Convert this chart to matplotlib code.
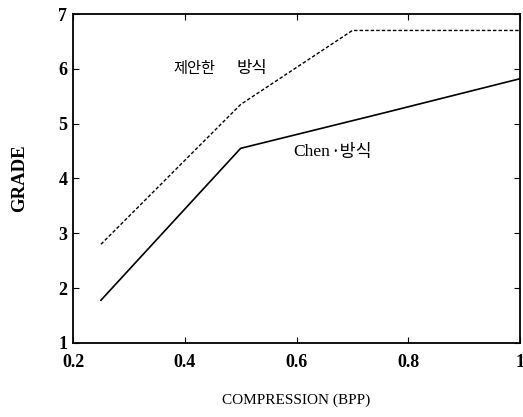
import matplotlib
matplotlib.use("Agg")
import matplotlib.pyplot as plt

# data
bpp_proposed = [0.25, 0.5, 0.7, 1.0]
grade_proposed = [2.8, 5.35, 6.7, 6.7]
bpp_chen = [0.25, 0.5, 0.75, 1.0]
grade_chen = [1.78, 4.55, 5.18, 5.82]

x_ticks = [0.2, 0.4, 0.6, 0.8, 1.0]
x_ticklabels = ["0.2", "0.4", "0.6", "0.8", "1"]
y_ticks = [1, 2, 3, 4, 5, 6, 7]

plt.rcParams['font.family'] = ['Liberation Serif', 'Noto Sans CJK KR']

fig = plt.figure(figsize=(5.23, 4.17), dpi=100)
ax = fig.add_axes([0.1396, 0.1775, 0.8547, 0.7889])

ax.plot(bpp_proposed, grade_proposed, color='black', lw=1.0, ls=(0, (2.5, 1.5)))
ax.plot(bpp_chen, grade_chen, color='black', lw=1.2)

ax.set_xlim(0.2, 1.0)
ax.set_ylim(1, 7)
ax.set_xticks(x_ticks)
ax.set_xticklabels(x_ticklabels)
ax.set_yticks(y_ticks)
ax.tick_params(direction='in', length=4, width=0.8, top=True, right=True,
               labelsize=13)
ax.tick_params(axis='x', pad=8)
ax.tick_params(axis='y', pad=4)
for lbl in ax.get_xticklabels() + ax.get_yticklabels():
    lbl.set_fontweight('bold')
for s in ax.spines.values():
    s.set_linewidth(1.3)

ax.set_xlabel("COMPRESSION (BPP)", fontsize=11, labelpad=16)
ax.set_ylabel("GRADE", fontsize=13.5, fontweight='bold', labelpad=22)

# curve labels
ax.text(0.379, 6.01, "제안한", family=['Noto Sans CJK KR'], fontsize=11,
        va='center', ha='left')
ax.text(0.492, 6.01, "방식", family=['Noto Sans CJK KR'], fontsize=12,
        va='center', ha='left')
ax.text(0.594, 4.48, "Chen", family=['Liberation Serif'], fontsize=12.5,
        va='center', ha='left')
ax.text(0.661, 4.48, "·방식", family=['Noto Sans CJK KR'], fontsize=12.5,
        va='center', ha='left')

fig.savefig("out.png", dpi=100)
